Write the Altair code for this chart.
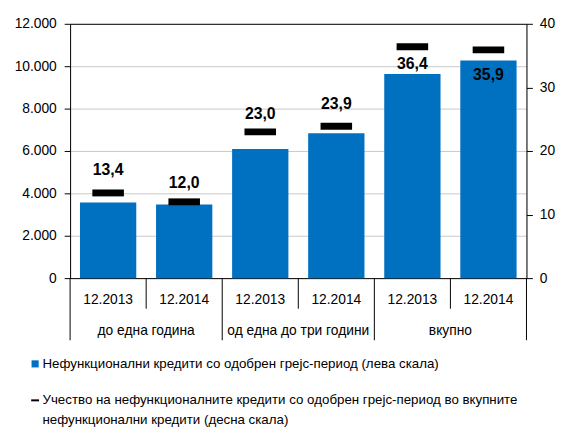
import altair as alt
import pandas as pd

# ---------------- data ----------------
groups = ["до една година", "до една година",
          "од една до три години", "од една до три години",
          "вкупно", "вкупно"]
periods = ["12.2013", "12.2014", "12.2013", "12.2014", "12.2013", "12.2014"]
npl_grace = [3570, 3470, 6090, 6840, 9630, 10270]      # left scale (bars)
share_grace = [13.4, 12.0, 23.0, 23.9, 36.4, 35.9]     # right scale (markers)
left_ticks = [0, 2000, 4000, 6000, 8000, 10000, 12000]
right_ticks = [0, 10, 20, 30, 40]
legend_bar = "Нефункционални кредити со одобрен грејс-период (лева скала)"
legend_line = ["Учество на нефункционалните кредити со одобрен грејс-период во вкупните",
               "нефункционални кредити (десна скала)"]

# ---------------- styles ----------------
FONT = "Liberation Sans"
BLUE = "#0070C0"
W, H = 463, 258
LABEL_DY = [-23, -19, -18, -22, 18, 26]
LEG_FS = 13.5

keys = [f"{g} {p}" for g, p in zip(groups, periods)]
df = pd.DataFrame({
    "idx": list(range(len(keys))),
    "key": keys,
    "group": groups,
    "period": periods,
    "npl": npl_grace,
    "share": share_grace,
    "label": [f"{v:.1f}".replace(".", ",") for v in share_grace],
})
df["pos"] = df["idx"] + 0.5

x_band = alt.X("key:N", sort=keys,
               scale=alt.Scale(type="band", domain=keys, paddingInner=0.26, paddingOuter=0.13),
               axis=None)
y_right_scale = alt.Scale(domain=[0, 40], nice=False)

base = alt.Chart(df)

bars = base.mark_bar(color=BLUE).encode(
    x=x_band,
    y=alt.Y("npl:Q", scale=alt.Scale(domain=[0, 12000], nice=False),
            axis=alt.Axis(values=left_ticks, title=None, orient="left",
                          labelExpr="replace(format(datum.value, ','), ',', '.')",
                          labelFont=FONT, labelFontSize=14, labelColor="black",
                          labelPadding=8, tickSize=6, tickColor="black",
                          domainColor="black", grid=True,
                          gridColor=alt.condition("datum.value == 0 || datum.value == 12000",
                                                  alt.value("black"), alt.value("#c8c8c8")))),
)

ticks = base.mark_tick(color="black", thickness=7, size=32, opacity=1).encode(
    x=x_band,
    y=alt.Y("share:Q", scale=y_right_scale,
            axis=alt.Axis(values=right_ticks, title=None, orient="right",
                          labelFont=FONT, labelFontSize=14, labelColor="black",
                          labelPadding=7, tickSize=6, tickColor="black",
                          domainColor="black", grid=False)),
)

texts = []
for i, dy in enumerate(LABEL_DY):
    texts.append(
        base.transform_filter(alt.datum.idx == i).mark_text(
            dy=dy, font=FONT, fontSize=16, fontWeight="bold", color="black",
            baseline="middle", align="center"
        ).encode(
            x=x_band,
            y=alt.Y("share:Q", scale=y_right_scale, axis=None),
            text="label:N",
        )
    )

# category separators & labels below the plot
n = len(keys)
bounds = list(range(n + 1))
long_b = [b for b in bounds if b == 0 or b == n or groups[b - 1] != groups[b]]
short_b = [b for b in bounds if b not in long_b]
x_q = alt.X("b:Q", scale=alt.Scale(domain=[0, n], nice=False, zero=False), axis=None)

sep_long = alt.Chart(pd.DataFrame({"b": long_b})).mark_rule(color="black", strokeWidth=1).encode(
    x=x_q, y=alt.value(H), y2=alt.value(H + 63))
sep_short = alt.Chart(pd.DataFrame({"b": short_b})).mark_rule(color="black", strokeWidth=1).encode(
    x=x_q, y=alt.value(H), y2=alt.value(H + 31))

period_lbl = alt.Chart(df.assign(b=df["pos"])).mark_text(
    font=FONT, fontSize=14, color="black", baseline="middle", align="center"
).encode(x=x_q, y=alt.value(H + 22), text="period:N")

gdf = df.groupby("group", sort=False)["pos"].mean().reset_index().rename(columns={"pos": "b"})
group_lbl = alt.Chart(gdf).mark_text(
    font=FONT, fontSize=14, color="black", baseline="middle", align="center"
).encode(x=x_q, y=alt.value(H + 54), text="group:N")

# legend (drawn)
one = pd.DataFrame({"a": [0]})
leg_sq = alt.Chart(one).mark_square(color=BLUE, size=52, opacity=1).encode(
    x=alt.value(-35.5), y=alt.value(H + 87))
leg_t1 = alt.Chart(one).mark_text(font=FONT, fontSize=LEG_FS, color="black", align="left",
                                  baseline="middle").encode(
    x=alt.value(-28), y=alt.value(H + 87.5), text=alt.value(legend_bar))
leg_dash = alt.Chart(one).mark_rule(color="black", strokeWidth=2).encode(
    x=alt.value(-39.5), x2=alt.value(-31.5), y=alt.value(H + 124))
leg_t2 = alt.Chart(one).mark_text(font=FONT, fontSize=LEG_FS, color="black", align="left",
                                  baseline="middle").encode(
    x=alt.value(-28), y=alt.value(H + 124), text=alt.value(legend_line[0]))
leg_t3 = alt.Chart(one).mark_text(font=FONT, fontSize=LEG_FS, color="black", align="left",
                                  baseline="middle").encode(
    x=alt.value(-28), y=alt.value(H + 144), text=alt.value(legend_line[1]))

chart = alt.layer(
    bars, ticks, *texts, sep_long, sep_short, period_lbl, group_lbl,
    leg_sq, leg_t1, leg_dash, leg_t2, leg_t3
).resolve_scale(
    x="independent", y="independent"
).properties(
    width=W, height=H,
    padding={"left": 63, "top": 13, "right": 33, "bottom": 149},
    autosize=alt.AutoSizeParams(type="none"),
).configure_view(
    stroke="black", strokeWidth=1
).configure(
    font=FONT
)

chart.save("out.html", embed_options={"renderer": "svg", "actions": False})
